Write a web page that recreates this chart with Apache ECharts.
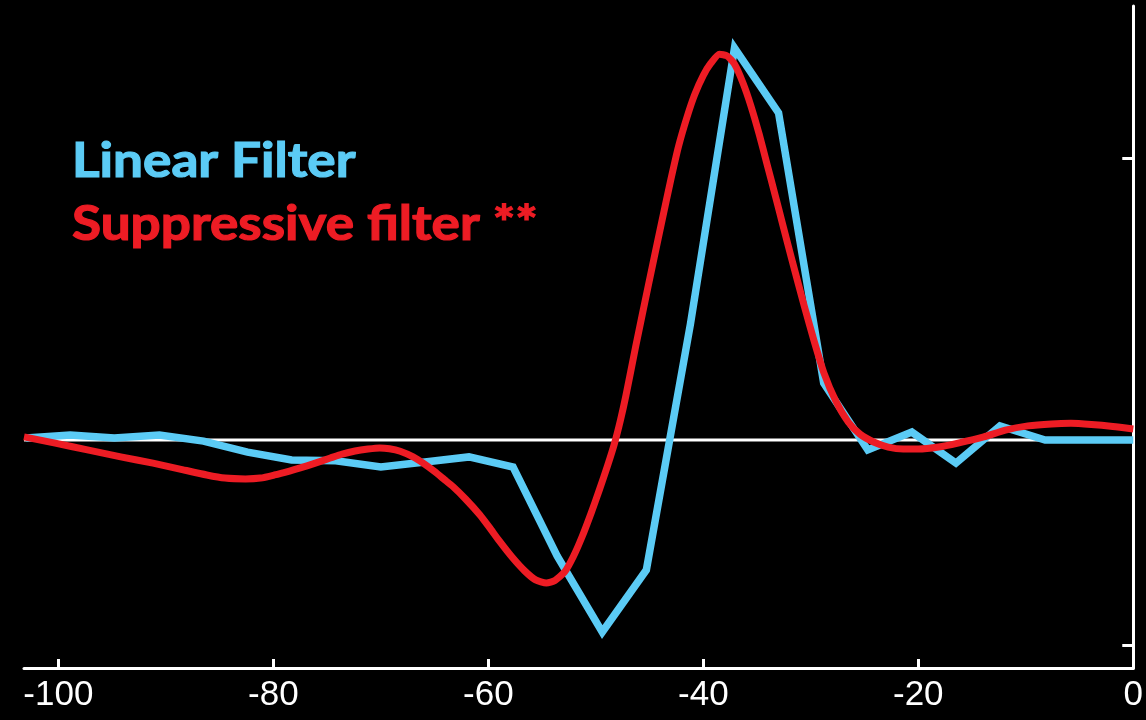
<!DOCTYPE html>
<html>
<head>
<meta charset="utf-8">
<script src="https://cdn.jsdelivr.net/npm/echarts@6/dist/echarts.min.js"></script>
<style>
  html, body { margin: 0; padding: 0; background: #000; }
  #chart { width: 1146px; height: 720px; }
</style>
</head>
<body>
<div id="chart"></div>
<script>
// Time axis (ms before the event) and filter weights (arbitrary units)
const linearTime = [-103.0, -98.9, -94.8, -90.6, -86.5, -82.4, -78.3, -74.2, -70.0, -65.9,
  -61.8, -57.7, -53.6, -49.4, -45.3, -41.2, -37.1, -33.0, -28.8, -24.7,
  -20.6, -16.5, -12.4, -8.2, -4.1, 0];
const linearFilter = [0.007, 0.018, 0.007, 0.018, -0.004, -0.043, -0.071, -0.074, -0.096, -0.078,
  -0.060, -0.096, -0.411, -0.681, -0.461, 0.411, 1.390, 1.160, 0.202, -0.035,
  0.028, -0.082, 0.050, 0, 0, 0];

const suppTime = [-103.2, -100.3, -97.3, -94.2, -91.2, -88.7, -86.2, -84.5, -82.6, -81.2,
  -79.9, -78.5, -77.5, -76.1, -74.7, -73.6, -72.4, -71.2, -70.1, -69.2,
  -68.2, -67.0, -66.0, -65.0, -64.1, -63.3, -62.1, -60.8, -59.9, -59.0,
  -57.8, -56.6, -55.6, -54.6, -53.8, -52.9, -52.1, -51.3, -50.4, -49.7,
  -48.9, -48.3, -47.7, -47.2, -46.3, -45.1, -43.9, -43.0, -42.3, -41.5,
  -40.8, -40.0, -39.3, -38.5, -37.8, -37.1, -36.3, -35.6, -34.8, -34.1,
  -33.3, -32.6, -31.8, -30.6, -29.7, -28.8, -27.7, -26.5, -25.4, -24.1,
  -22.8, -21.4, -20.0, -18.1, -16.3, -13.9, -11.9, -9.8, -7.6, -5.8,
  -3.9, -1.9, 0];
const suppFilter = [0.011, -0.011, -0.035, -0.060, -0.082, -0.103, -0.124, -0.135, -0.138, -0.135,
  -0.124, -0.110, -0.099, -0.082, -0.064, -0.050, -0.039, -0.032, -0.028, -0.031,
  -0.040, -0.060, -0.084, -0.112, -0.140, -0.165, -0.210, -0.265, -0.310, -0.357,
  -0.415, -0.465, -0.496, -0.507, -0.498, -0.468, -0.414, -0.345, -0.255, -0.180,
  -0.090, -0.017, 0.072, 0.158, 0.330, 0.551, 0.768, 0.927, 1.042, 1.147,
  1.225, 1.293, 1.336, 1.368, 1.362, 1.333, 1.265, 1.188, 1.084, 0.982,
  0.866, 0.762, 0.645, 0.474, 0.352, 0.240, 0.140, 0.063, 0.020, -0.008,
  -0.025, -0.032, -0.032, -0.025, -0.011, 0.011, 0.035, 0.050, 0.057, 0.059,
  0.055, 0.048, 0.039];

const xTicks = [-100, -80, -60, -40, -20, 0];
const yTicks = [-0.727, 1];
const seriesNames = ['Linear Filter', 'Suppressive filter **'];

const BLUE = '#5bcbf5';
const RED = '#ed1c24';

const chart = echarts.init(document.getElementById('chart'), null, { renderer: 'canvas' });

const pairs = (xs, ys) => xs.map((x, i) => [x, ys[i]]);

chart.setOption({
  backgroundColor: '#000',
  animation: false,
  grid: { left: 24, right: 10.5, top: 6, bottom: 52, containLabel: false },
  xAxis: {
    type: 'value',
    min: -103.2,
    max: 0,
    axisLine: { show: true, onZero: false, lineStyle: { color: '#fff', width: 3 } },
    axisTick: { show: true, inside: true, length: 9, lineStyle: { color: '#fff', width: 3 }, customValues: xTicks },
    axisLabel: {
      show: true, color: '#fff', fontSize: 35, margin: 10,
      fontFamily: '"Liberation Sans", Arial, sans-serif',
      customValues: xTicks
    },
    splitLine: { show: false }
  },
  yAxis: {
    type: 'value',
    position: 'right',
    min: -0.8085,
    max: 1.539,
    axisLine: { show: true, onZero: false, lineStyle: { color: '#fff', width: 3 } },
    axisTick: { show: true, inside: true, length: 11, lineStyle: { color: '#fff', width: 3 }, customValues: yTicks },
    axisLabel: { show: false },
    splitLine: { show: false }
  },
  graphic: [
    {
      type: 'text', x: 72, y: 138, scaleX: 1.13,
      style: { text: seriesNames[0], fill: BLUE, stroke: BLUE, lineWidth: 1.2, font: 'bold 47px Lato, "Open Sans", sans-serif' }
    },
    {
      type: 'text', x: 72, y: 201, scaleX: 1.13,
      style: { text: seriesNames[1], fill: RED, stroke: RED, lineWidth: 1.2, font: 'bold 47px Lato, "Open Sans", sans-serif' }
    }
  ],
  series: [
    {
      name: 'zero',
      type: 'line',
      data: [[-103.2, 0], [0, 0]],
      symbol: 'none',
      silent: true,
      z: 1,
      lineStyle: { color: '#fff', width: 3 }
    },
    {
      name: seriesNames[0],
      type: 'line',
      data: pairs(linearTime, linearFilter),
      symbol: 'none',
      z: 2,
      lineStyle: { color: BLUE, width: 7.5, join: 'miter' }
    },
    {
      name: seriesNames[1],
      type: 'line',
      data: pairs(suppTime, suppFilter),
      symbol: 'none',
      smooth: 0.2,
      z: 3,
      lineStyle: { color: RED, width: 7, join: 'round' }
    }
  ]
});
</script>
</body>
</html>
